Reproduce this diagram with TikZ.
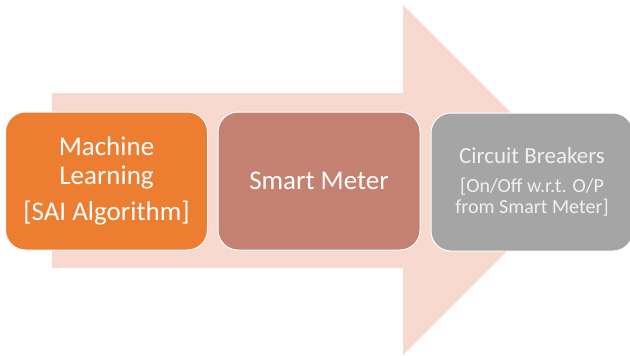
\documentclass[tikz,border=0pt]{standalone}
\usepackage{fontspec}
\setmainfont{Carlito}
\definecolor{mlorange}{HTML}{ED7D31}
\definecolor{meterbrown}{HTML}{C48172}
\definecolor{breakergray}{HTML}{A5A5A5}
\definecolor{arrowpink}{HTML}{F8D9CF}
\begin{document}
\begin{tikzpicture}[x=1pt,y=-1pt,
    stage/.style={draw=white,line width=1pt,rounded corners=20pt,
      minimum width=202pt,minimum height=138pt,inner sep=0pt,
      text=white,align=center,font=\fontsize{27}{29}\selectfont}]
  \useasboundingbox (0,0) rectangle (630,356);
  % big arrow behind the stages
  \fill[arrowpink] (52,93) -- (403,93) -- (403,5) -- (578,180)
    -- (403,355) -- (403,268) -- (52,268) -- cycle;
  \draw
    (106.5,181) node[stage,fill=mlorange] (ml){Machine\\Learning\\[7pt]{[SAI Algorithm]}}
    (319,181) node[stage,fill=meterbrown] (meter){Smart Meter}
    (532,182) node[stage,fill=breakergray,text=white!94!black,
      font=\fontsize{20}{21}\selectfont] (breaker){%
      {\fontsize{23}{25}\selectfont Circuit Breakers}\\[8pt]
      {[On/Off w.r.t. O/P}\\from Smart Meter]};
\end{tikzpicture}
\end{document}
